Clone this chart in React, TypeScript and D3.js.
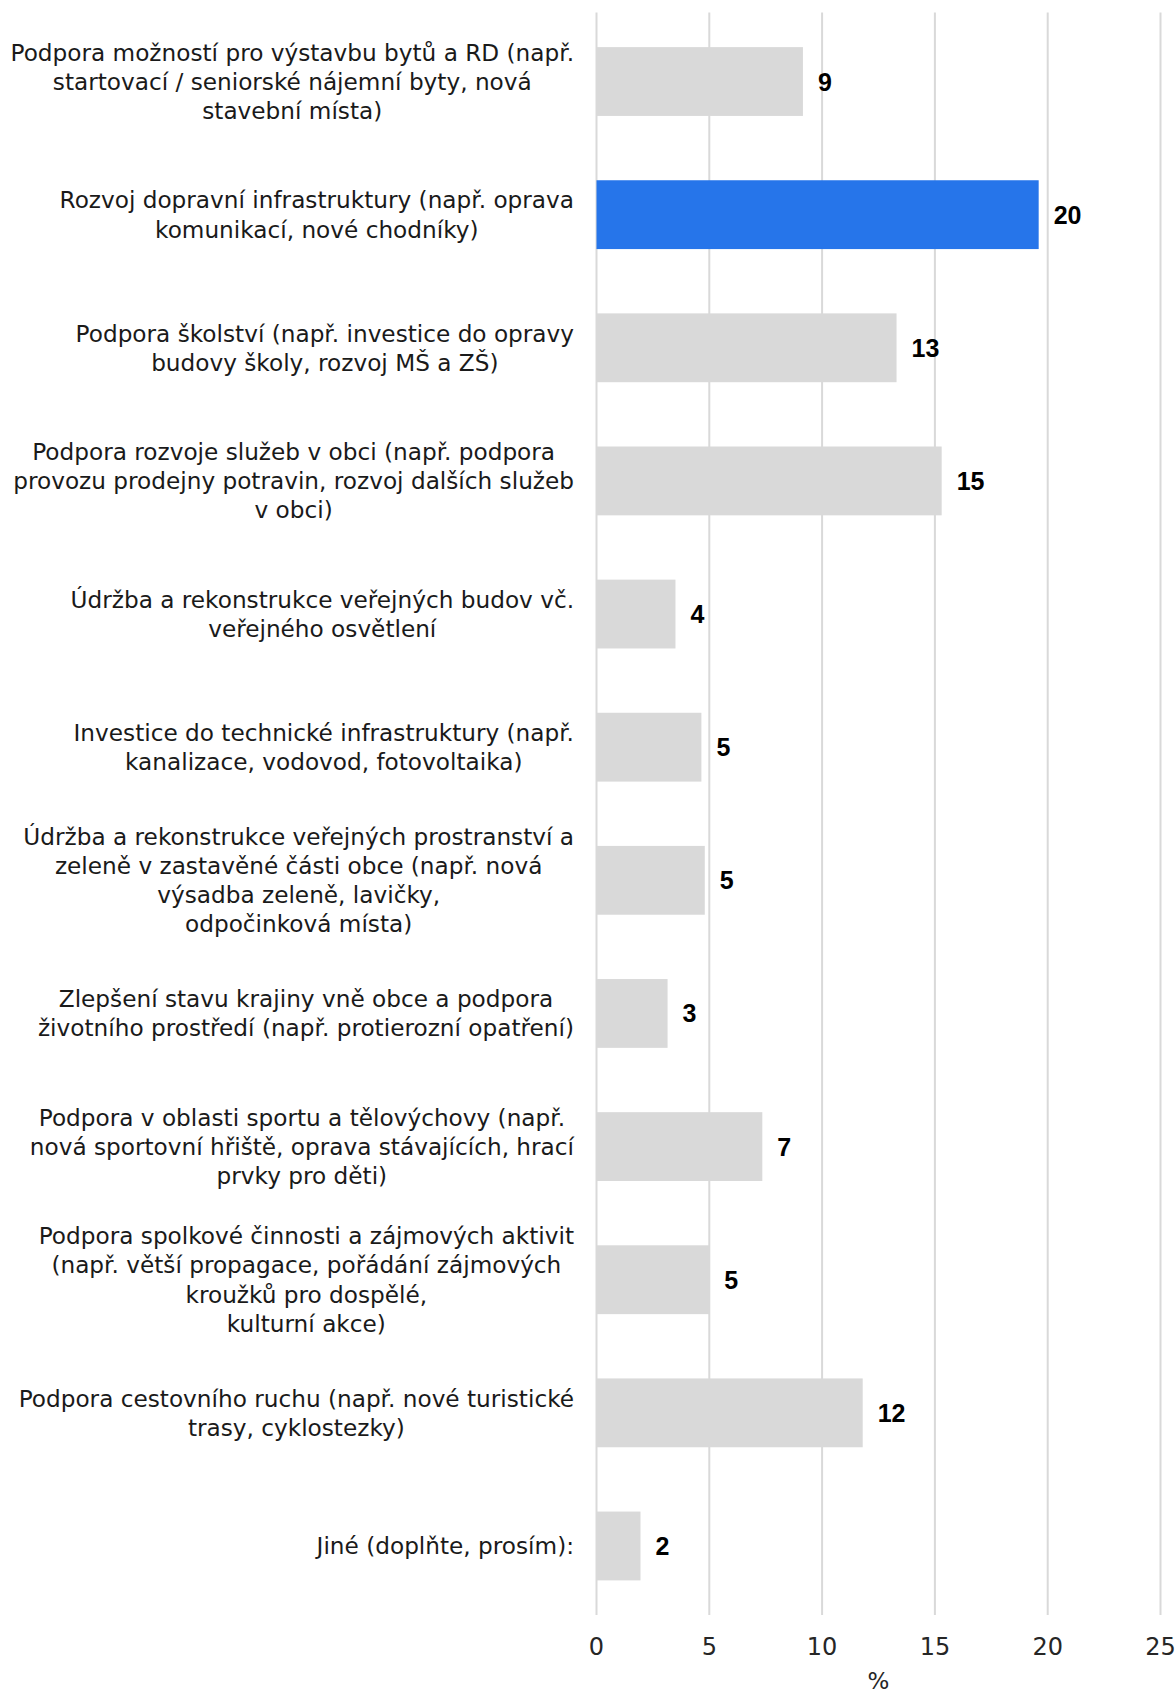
import React, { useEffect, useRef } from "react";
import * as d3 from "d3";

const categories: string[][] = [
  ["Podpora možností pro výstavbu bytů a RD (např.", "startovací / seniorské nájemní byty, nová", "stavební místa)"],
  ["Rozvoj dopravní infrastruktury (např. oprava", "komunikací, nové chodníky)"],
  ["Podpora školství (např. investice do opravy", "budovy školy, rozvoj MŠ a ZŠ)"],
  ["Podpora rozvoje služeb v obci (např. podpora", "provozu prodejny potravin, rozvoj dalších služeb", "v obci)"],
  ["Údržba a rekonstrukce veřejných budov vč.", "veřejného osvětlení"],
  ["Investice do technické infrastruktury (např.", "kanalizace, vodovod, fotovoltaika)"],
  ["Údržba a rekonstrukce veřejných prostranství a", "zeleně v zastavěné části obce (např. nová", "výsadba zeleně, lavičky,", "odpočinková místa)"],
  ["Zlepšení stavu krajiny vně obce a podpora", "životního prostředí (např. protierozní opatření)"],
  ["Podpora v oblasti sportu a tělovýchovy (např.", "nová sportovní hřiště, oprava stávajících, hrací", "prvky pro děti)"],
  ["Podpora spolkové činnosti a zájmových aktivit", "(např. větší propagace, pořádání zájmových", "kroužků pro dospělé,", "kulturní akce)"],
  ["Podpora cestovního ruchu (např. nové turistické", "trasy, cyklostezky)"],
  ["Jiné (doplňte, prosím):"],
];
const values: number[] = [9.15, 19.6, 13.3, 15.3, 3.5, 4.65, 4.8, 3.15, 7.35, 5.0, 11.8, 1.95];
const highlighted: number[] = [1];
const xTicks: number[] = [0, 5, 10, 15, 20, 25];
const xTitle = "%";

const W = 1176;
const H = 1697;
const FONT = "'DejaVu Sans', sans-serif";
const VALUE_FONT = "'Liberation Sans', Arial, sans-serif";

export default function App() {
  const ref = useRef<SVGSVGElement>(null);
  useEffect(() => {
    const svg = d3.select(ref.current);
    svg.selectAll("*").remove();
    const top = 12.5;
    const bottom = 1615;
    const x = d3.scaleLinear().domain([0, 25]).range([596.5, 1160.5]);
    const y = d3.scaleBand<number>().domain(values.map((_, i) => i)).range([top, bottom]).paddingInner(0.483).paddingOuter(0.26);

    // gridlines
    svg.append("g").selectAll("line").data(xTicks).join("line")
      .attr("x1", (d) => x(d)).attr("x2", (d) => x(d))
      .attr("y1", top).attr("y2", bottom)
      .attr("stroke", "#d9d9d9").attr("stroke-width", 2);

    // bars
    svg.append("g").selectAll("rect").data(values).join("rect")
      .attr("x", x(0)).attr("y", (_, i) => y(i)!)
      .attr("width", (d) => x(d) - x(0)).attr("height", y.bandwidth())
      .attr("fill", (_, i) => (highlighted.includes(i) ? "#2675ea" : "#d9d9d9"));

    // value labels
    svg.append("g").selectAll("text").data(values).join("text")
      .attr("x", (d) => x(d) + 15).attr("y", (_, i) => y(i)! + y.bandwidth() / 2)
      .attr("dy", "0.36em")
      .attr("font-family", VALUE_FONT).attr("font-size", 25).attr("font-weight", "bold")
      .attr("fill", "#000")
      .text((d) => String(Math.round(d)));

    // category labels
    const lh = 29.2;
    const right = 574;
    categories.forEach((lines, i) => {
      const cy = y(i)! + y.bandwidth() / 2;
      const g = svg.append("g");
      const texts = g.selectAll("text").data(lines).join("text")
        .attr("font-family", FONT).attr("font-size", 23.2).attr("fill", "#1a1a1a")
        .attr("text-anchor", "middle")
        .attr("y", (_, j) => cy + (j - (lines.length - 1) / 2) * lh)
        .attr("dy", "0.36em")
        .text((d) => d);
      let maxW = 0;
      texts.each(function () {
        const w = (this as SVGTextElement).getComputedTextLength();
        if (w > maxW) maxW = w;
      });
      texts.attr("x", right - maxW / 2);
    });

    // tick labels
    svg.append("g").selectAll("text").data(xTicks).join("text")
      .attr("x", (d) => x(d)).attr("y", 1646).attr("dy", "0.36em")
      .attr("text-anchor", "middle")
      .attr("font-family", FONT).attr("font-size", 24).attr("fill", "#262626")
      .text((d) => String(d));

    svg.append("text")
      .attr("x", (x(0) + x(25)) / 2).attr("y", 1689)
      .attr("text-anchor", "middle")
      .attr("font-family", FONT).attr("font-size", 23).attr("fill", "#262626")
      .text(xTitle);
  }, []);
  return (
    <svg ref={ref} width={W} height={H} style={{ position: "absolute", left: 0, top: 0, background: "#fff" }} />
  );
}
